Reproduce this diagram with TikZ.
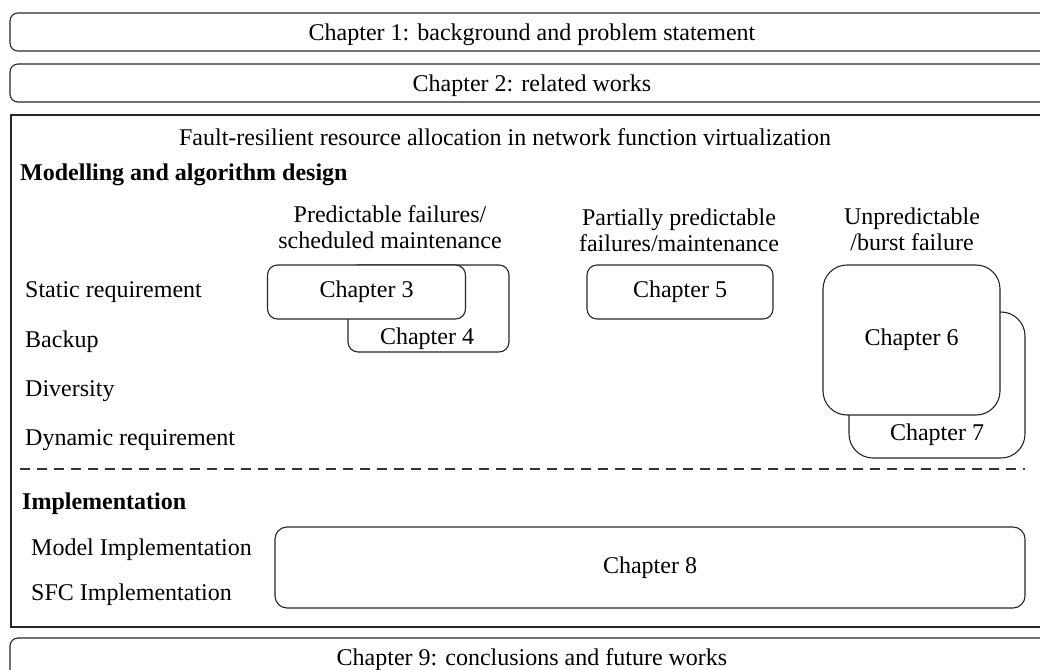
\documentclass[tikz,border=0pt]{standalone}
\usepackage{fontspec}
\setmainfont{Liberation Serif}
\begin{document}
\begin{tikzpicture}[x=1pt,y=-1pt,
  frame/.style={draw=black!85, line width=1.1pt},
  band/.style={frame, rounded corners=8pt},
  chapbox/.style={frame, fill=white, rounded corners=10pt, inner sep=0pt, anchor=center, font=\fontsize{24}{28}\selectfont},
  bigchap/.style={chapbox, rounded corners=24pt},
  txt/.style={font=\fontsize{24}{28}\selectfont, inner sep=0pt, anchor=base},
  twoline/.style={txt, align=center, anchor=center},
  lbl/.style={txt, anchor=base west},
  head/.style={lbl, font=\fontsize{24}{28}\selectfont\bfseries}]
\useasboundingbox (0,0) rectangle (1040,669);
\clip (0,0) rectangle (1040,669);

% outer bands
\draw[band] (10,13) rectangle (1054,51);
\node[txt] (ch1) at (532,41) {Chapter 1: background and problem statement};
\draw[band] (10,64) rectangle (1054,102);
\node[txt] (ch2) at (532,91) {Chapter 2: related works};
\draw[frame] (11,115) rectangle (1054,627);
\node[txt] (title) at (505,145) {Fault-resilient resource allocation in network function virtualization};
\draw[band] (10,638) rectangle (1054,700);
\node[txt] (ch9) at (532,665) {Chapter 9: conclusions and future works};

% modelling part
\node[head] (model) at (20,180) {Modelling and algorithm design};
\node[twoline] (pred) at (390,227) {Predictable failures/\\[-2pt]scheduled maintenance};
\node[twoline] (part) at (679,230) {Partially predictable\\[-2pt]failures/maintenance};
\node[twoline] (unpr) at (912,229) {Unpredictable\\[-2pt]/burst failure};

\node[lbl] (stat) at (25,297) {Static requirement};
\node[lbl] (back) at (25,347) {Backup};
\node[lbl] (div) at (25,396) {Diversity};
\node[lbl] (dyn) at (25,445) {Dynamic requirement};

% chapters 3 and 4
\node[chapbox, minimum width=161pt, minimum height=87pt] (c4box) at (428.5,308.5) {};
\node[txt] (c4) at (427,344) {Chapter 4};
\node[chapbox, minimum width=198pt, minimum height=54pt] (c3) at (366.5,292) {Chapter 3};

% chapter 5
\node[chapbox, minimum width=186pt, minimum height=54pt] (c5) at (680,292) {Chapter 5};

% chapters 6 and 7
\node[bigchap, minimum width=176pt, minimum height=146pt] (c7box) at (937,385) {};
\node[txt] (c7) at (937,440) {Chapter 7};
\node[bigchap, minimum width=177pt, minimum height=150pt] (c6) at (911.5,340) {Chapter 6};

% separator
\coordinate (sepL) at (20,469);
\coordinate (sepR) at (1025,469);
\draw[draw=black!80, line width=1.1pt, dash pattern=on 10pt off 7pt] (sepL) -- (sepR);

% implementation part
\node[head] (impl) at (22,509) {Implementation};
\node[lbl] (mimp) at (31,555) {Model Implementation};
\node[lbl] (simp) at (31,600) {SFC Implementation};
\node[chapbox, rounded corners=12pt, minimum width=750pt, minimum height=81pt] (c8) at (650,567.5) {Chapter 8};
\end{tikzpicture}
\end{document}
